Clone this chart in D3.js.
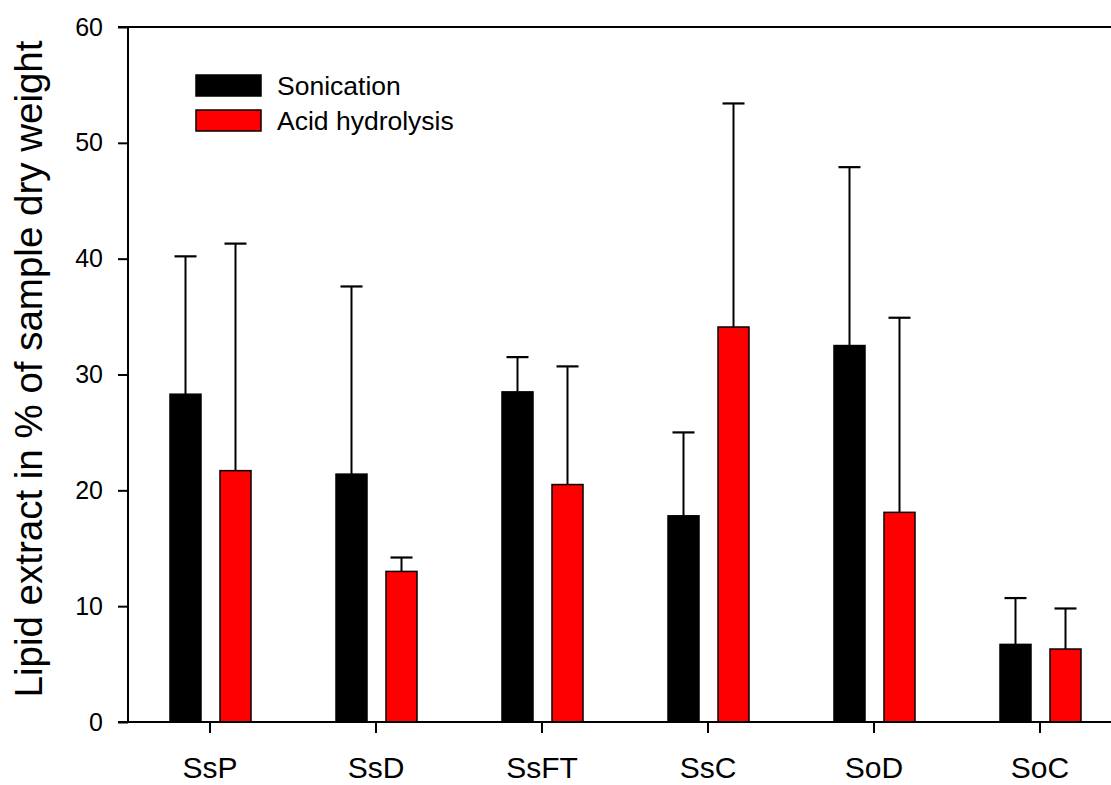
<!DOCTYPE html>
<html lang="en">
<head>
<meta charset="utf-8">
<title>Lipid extract</title>
<script src="https://cdn.jsdelivr.net/npm/d3@7"></script>
<style>
  body { margin: 0; background: #fff; }
  svg text { font-family: "Liberation Sans", Arial, sans-serif; fill: #000; }
</style>
</head>
<body>
<script>
// data
var categories = ["SsP", "SsD", "SsFT", "SsC", "SoD", "SoC"];
var methods = ["Sonication", "Acid hydrolysis"];
var sonication = [28.3, 21.4, 28.5, 17.8, 32.5, 6.7];
var sonicationErr = [40.2, 37.6, 31.5, 25.0, 47.9, 10.7];
var acid = [21.7, 13.0, 20.5, 34.1, 18.1, 6.3];
var acidErr = [41.3, 14.2, 30.7, 53.4, 34.9, 9.8];
var yTicks = [0, 10, 20, 30, 40, 50, 60];
var colors = ["#000000", "#ff0000"];

var W = 1111, H = 785;
var svg = d3.select("body").append("svg")
  .attr("width", W).attr("height", H);

var x = d3.scaleBand().domain(categories).range([127, 1123]);
var x1 = d3.scaleBand().domain(methods).range([43, 124]).paddingInner(0.38);
var y = d3.scaleLinear().domain([0, 60]).range([722, 27]);

var rows = [];
categories.forEach(function(c, i) {
  rows.push({cat: c, m: methods[0], v: sonication[i], e: sonicationErr[i], col: colors[0]});
  rows.push({cat: c, m: methods[1], v: acid[i], e: acidErr[i], col: colors[1]});
});

// error bars (upper only)
var eb = svg.append("g").selectAll("g").data(rows).enter().append("g");
eb.append("line")
  .attr("x1", function(d) { return x(d.cat) + x1(d.m) + x1.bandwidth() / 2; })
  .attr("x2", function(d) { return x(d.cat) + x1(d.m) + x1.bandwidth() / 2; })
  .attr("y1", function(d) { return y(d.v); })
  .attr("y2", function(d) { return y(d.e); })
  .attr("stroke", "#000").attr("stroke-width", 2);
eb.append("line")
  .attr("x1", function(d) { return x(d.cat) + x1(d.m) + x1.bandwidth() / 2 - 11; })
  .attr("x2", function(d) { return x(d.cat) + x1(d.m) + x1.bandwidth() / 2 + 11; })
  .attr("y1", function(d) { return y(d.e); })
  .attr("y2", function(d) { return y(d.e); })
  .attr("stroke", "#000").attr("stroke-width", 2.2);

// bars
svg.append("g").selectAll("rect").data(rows).enter().append("rect")
  .attr("x", function(d) { return x(d.cat) + x1(d.m); })
  .attr("y", function(d) { return y(d.v); })
  .attr("width", x1.bandwidth())
  .attr("height", function(d) { return y(0) - y(d.v); })
  .attr("fill", function(d) { return d.col; })
  .attr("stroke", "#000").attr("stroke-width", 1.5);

// y axis
var ya = svg.append("g").attr("transform", "translate(128,0)")
  .call(d3.axisLeft(y).tickValues(yTicks).tickSize(10).tickPadding(15));
ya.select(".domain").remove();
ya.selectAll(".tick line").attr("stroke-width", 2);
ya.selectAll(".tick text").attr("font-size", "25px").attr("font-family", null);

// x axis
var xa = svg.append("g").attr("transform", "translate(0,722)")
  .call(d3.axisBottom(x).tickSize(11).tickPadding(24));
xa.select(".domain").remove();
xa.selectAll(".tick line").attr("stroke-width", 2);
xa.selectAll(".tick text").attr("font-size", "30px").attr("font-family", null);

// frame lines
svg.append("line").attr("x1", 128).attr("x2", 128).attr("y1", 27).attr("y2", 722)
  .attr("stroke", "#000").attr("stroke-width", 2);
svg.append("line").attr("x1", 118).attr("x2", 1123).attr("y1", 722).attr("y2", 722)
  .attr("stroke", "#000").attr("stroke-width", 2);
svg.append("line").attr("x1", 118).attr("x2", 1123).attr("y1", 27).attr("y2", 27)
  .attr("stroke", "#000").attr("stroke-width", 2);

// y label
svg.append("text")
  .attr("transform", "translate(42,369) rotate(-90)")
  .attr("text-anchor", "middle")
  .attr("font-size", "38.5px")
  .text("Lipid extract in % of sample dry weight");

// legend
var lg = svg.append("g").selectAll("g").data(methods).enter().append("g")
  .attr("transform", function(d, i) { return "translate(196," + (75 + i * 35) + ")"; });
lg.append("rect").attr("width", 65).attr("height", 21)
  .attr("fill", function(d, i) { return colors[i]; })
  .attr("stroke", "#000").attr("stroke-width", 1.5);
lg.append("text").attr("x", 81).attr("y", 20)
  .attr("font-size", "26.5px")
  .text(function(d) { return d; });
</script>
</body>
</html>
